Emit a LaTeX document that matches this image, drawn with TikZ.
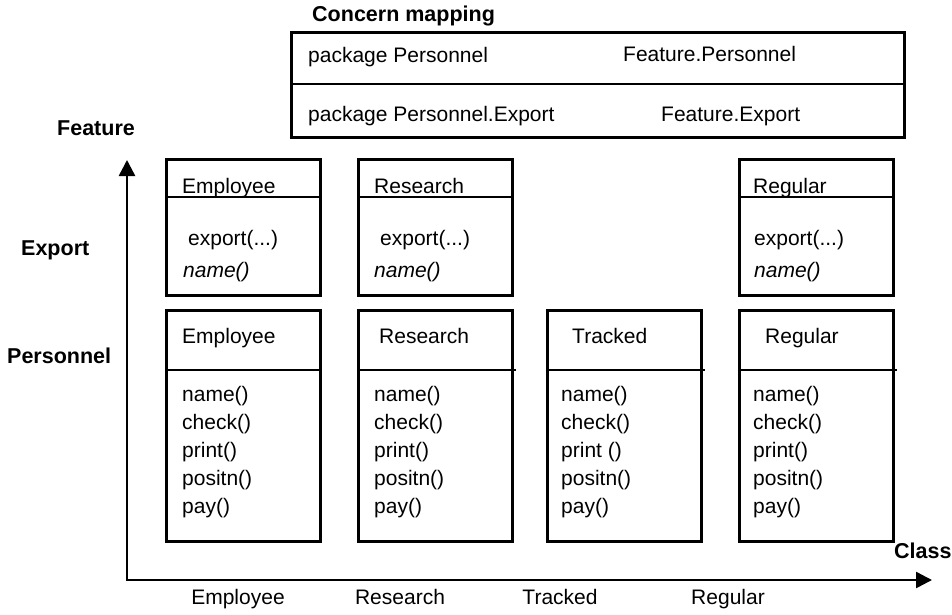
\documentclass[tikz,border=0pt]{standalone}
\usepackage{fontspec}
\setmainfont{Liberation Sans}
\usetikzlibrary{arrows.meta, positioning}
\tikzset{>={Triangle[length=16pt,width=16pt]}}
\tikzset{
  clsbox/.style={draw, line width=2.6pt, rectangle, inner sep=0pt, anchor=north west, minimum width=154pt},
  divider/.style={line width=2.4pt},
  txt/.style={anchor=base west, inner sep=0pt, font=\fontsize{21}{25}\selectfont},
  bold/.style={anchor=base west, inner sep=0pt, font=\fontsize{21.5}{25}\selectfont\bfseries},
  xlbl/.style={anchor=base, inner sep=0pt, font=\fontsize{21}{25}\selectfont}
}

\begin{document}
\begin{tikzpicture}[x=1pt, y=-1pt]
\useasboundingbox (0,0) rectangle (952,614);

% concern mapping table
\node[bold] (maptitle) at (312,21) {Concern mapping};
\node[draw, line width=2.6pt, anchor=north west, inner sep=0pt, minimum width=613pt, minimum height=105pt] (map) at (290,31) {};
\draw[divider] ([yshift=-53pt]map.north west) -- ([yshift=-53pt]map.north east);
\node[txt] (pkg1) at (308,62) {package Personnel};
\node[txt] (feat1) at (623,61) {Feature.Personnel};
\node[txt] (pkg2) at (308,121) {package Personnel.Export};
\node[txt] (feat2) at (661,121) {Feature.Export};

% axes
\coordinate (origin) at (127,580);
\coordinate (ytip) at (127,160);
\coordinate (xtip) at (932,580);
\draw[line width=2.5pt, <->] (ytip) -- (origin) -- (xtip);

\node[bold] (lblfeat) at (57,135) {Feature};
\node[bold] (lblexp) at (21,255) {Export};
\node[bold] (lblpers) at (7,363) {Personnel};
\node[bold] (lblclass) at (894,558) {Class};
\node[xlbl] (xemp) at (238,604) {Employee};
\node[xlbl] (xres) at (400,604) {Research};
\node[xlbl] (xtrk) at (560,604) {Tracked};
\node[xlbl] (xreg) at (728,604) {Regular};

% Export feature
\foreach \nm/\cls/\x/\hx/\ex/\nx in {Emp/Employee/165/182/188/183, Res/Research/357/374/380/374, Reg/Regular/738/753/754/754}{
  \node[clsbox, minimum height=136pt] (exp\nm) at (\x,158) {};
  \draw[divider] ([yshift=-39pt]exp\nm.north west) -- ([yshift=-39pt]exp\nm.north east);
  \node[txt] (exp\nm-h) at (\hx,193) {\cls};
  \node[txt] (exp\nm-e) at (\ex,245) {export(...)};
  \node[txt, font=\fontsize{21}{25}\selectfont\itshape] (exp\nm-n) at (\nx,277) {name()};
}

% Personnel feature
\foreach \nm/\cls/\x/\hx/\mx/\ext/\pr in {Emp/Employee/165/182/182/0/print(), Res/Research/357/379/374/2/print(), Trk/Tracked/546/572/561/2/print (), Reg/Regular/738/765/753/2/print()}{
  \node[clsbox, minimum height=231pt] (per\nm) at (\x,309) {};
  \draw[divider] ([yshift=-61pt]per\nm.north west) -- ([yshift=-61pt, xshift=\ext pt]per\nm.north east);
  \node[txt] (per\nm-h) at (\hx,343) {\cls};
  \foreach \m [count=\i from 0] in {name(), check(), \pr, positn(), pay()}
    \node[txt] (per\nm-\i) at (\mx,401+28*\i) {\m};
}
\end{tikzpicture}
\end{document}
